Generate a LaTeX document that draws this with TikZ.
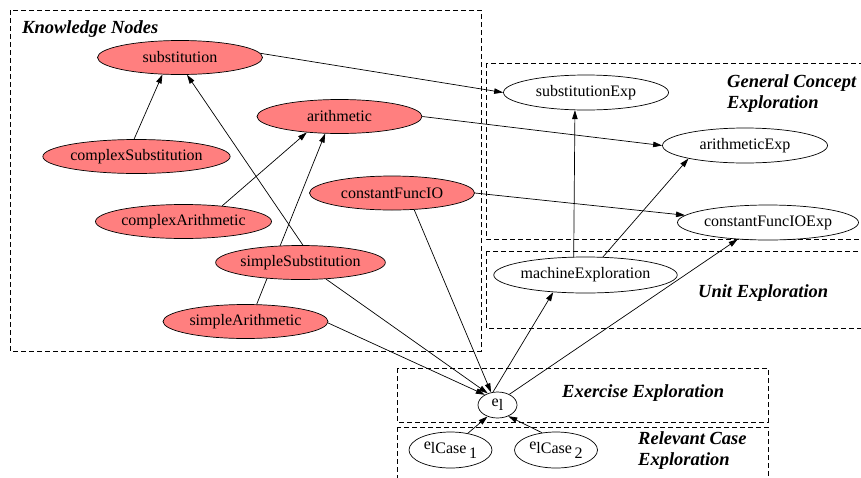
\documentclass[tikz,border=0pt]{standalone}
\usepackage{fontspec}
\setmainfont{Liberation Serif}
\usetikzlibrary{shapes.geometric,arrows.meta,backgrounds}
\definecolor{knowfill}{HTML}{FF7F7F}
\begin{document}
\begin{tikzpicture}[x=1pt,y=-1pt,
  concept/.style={ellipse,draw,line width=0.7pt,fill=knowfill,
    minimum width=165pt,minimum height=34pt,inner sep=0pt,
    font=\fontsize{16}{18}\selectfont},
  explore/.style={concept,fill=white,minimum height=35pt},
  small/.style={concept,fill=white,minimum width=39pt,minimum height=26pt},
  casenode/.style={concept,fill=white,minimum width=83pt,minimum height=36pt},
  link/.style={line width=0.7pt,-{Triangle[length=9pt,width=5.5pt]}},
  cluster/.style={draw,dash pattern=on 5pt off 3pt,line width=0.7pt},
  clusterlabel/.style={font=\fontsize{18.5}{21}\selectfont\bfseries\itshape,
    inner sep=0pt,align=left}
]
\useasboundingbox (0,0) rectangle (861,477);
\clip (0,0) rectangle (861,477);

% clusters
\draw[cluster] (10,10) rectangle (481,351);
\draw[cluster] (486,63) rectangle (875,239);
\draw[cluster] (486,251) rectangle (875,328);
\draw[cluster] (397,368) rectangle (768,422);
\draw[cluster] (397,427) rectangle (768,490);

\node[clusterlabel,anchor=base west] (lk) at (22,33) {Knowledge Nodes};
\node[clusterlabel,anchor=north west] (lg) at (727,74.5) {General Concept\\Exploration};
\node[clusterlabel,anchor=base west] (lu) at (698,297) {Unit Exploration};
\node[clusterlabel,anchor=base west] (lx) at (562,397) {Exercise Exploration};
\node[clusterlabel,anchor=north west] (lr) at (638,431.5) {Relevant Case\\Exploration};

% knowledge nodes
\node[concept] (S)  at (180,57.5)   {substitution};
\node[concept] (A)  at (339.5,116.5) {arithmetic};
\node[concept] (CS) at (136.5,156.5) {complexSubstitution};
\node[concept] (CF) at (392,193)     {constantFuncIO};
\node[concept] (CA) at (183.5,221.5) {complexArithmetic};
\node[concept] (SS) at (300.5,262.5) {simpleSubstitution};
\node[concept] (SA) at (245.5,321.5) {simpleArithmetic};

% exploration nodes
\node[explore] (SE) at (586,92.5)  {substitutionExp};
\node[explore] (AE) at (745,145.5) {arithmeticExp};
\node[explore] (CE) at (768,222.5) {constantFuncIOExp};
\node[explore,minimum height=36pt] (ME) at (585.5,275) {machineExploration};
\node[small] (E) at (497.5,405) {\raisebox{4pt}{e}l};
\node[casenode] (C1) at (450.5,450) {\raisebox{4pt}{e}lCase\,\raisebox{-5pt}{1}};
\node[casenode] (C2) at (556,450)   {\raisebox{4pt}{e}lCase\,\raisebox{-5pt}{2}};

% edges
\begin{scope}[on background layer]
\draw[link] (CS.98)  -- (S.224);
\draw[link] (SS.82)  -- (S.292);
\draw[link] (CA.22)  -- (A.206);
\draw[link] (SA.57)  -- (A.230);
\draw[link] (S.3)    -- (SE.west);
\draw[link] (A.east) -- (AE.west);
\draw[link] (CF.east) -- (CE.175.5);
\draw[link] (ME.123) -- (SE.238);
\draw[link] (ME.46)  -- (AE.193);
\draw[link] (E.109)  -- (ME.208);
\draw[link] (E.42)   -- (CE.209);
\draw[link] (CF.323) -- (E.117);
\draw[link] (SS.327) -- (E.130);
\draw[link] (SA.359) -- (E.141);
\draw[link] (C1.44)  -- (E.229);
\draw[link] (C2.129) -- (E.314);
\end{scope}
\end{tikzpicture}
\end{document}
